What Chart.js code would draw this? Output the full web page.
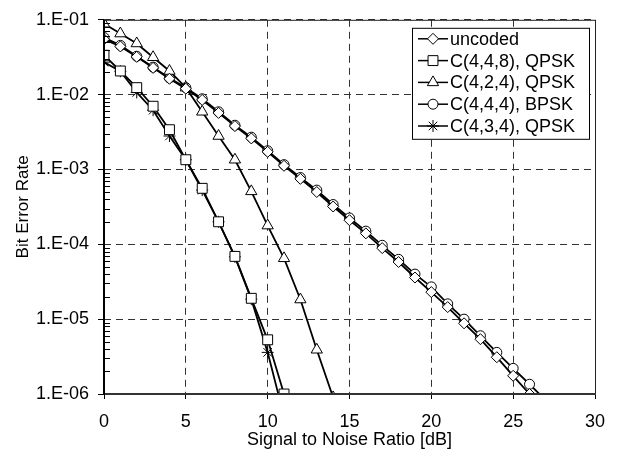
<!DOCTYPE html>
<html>
<head>
<meta charset="utf-8">
<script src="https://cdn.jsdelivr.net/npm/chart.js"></script>
<style>
  html, body { margin: 0; padding: 0; background: #fff; }
  #wrap { width: 619px; height: 452px; }
</style>
</head>
<body>
<div id="wrap"><canvas id="ber-chart"></canvas></div>
<script>
// VALORES DE SNR (dB) DE CADA CURVA
const snrUncoded = [0,1,2,3,4,5,6,7,8,9,10,11,12,13,14,15,16,17,18,19,20,21,22,23,24,25,26];
const snrC448 = [0,1,2,3,4,5,6,7,8,9,10,11];
const snrC424 = [0,1,2,3,4,5,6,7,8,9,10,11,12,13,14];
const snrC444 = [0,1,2,3,4,5,6,7,8,9,10,11,12,13,14,15,16,17,18,19,20,21,22,23,24,25,26,27];
const snrC434 = [0,1,2,3,4,5,6,7,8,9,10,11];

// BER
const berUncoded = [0.055,0.044,0.032,0.0228,0.0163,0.012,0.0085,0.0057,0.0038,0.0026,0.00172,0.00112,
  7.5e-4,5.0e-4,3.2e-4,2.1e-4,1.4e-4,8.9e-5,5.8e-5,3.6e-5,2.3e-5,1.45e-5,8.8e-6,5.4e-6,3.1e-6,1.75e-6,1.0e-6];
const berC448 = [0.0336,0.0207,0.0124,0.0070,0.0034,0.00135,5.6e-4,2.0e-4,6.9e-5,1.9e-5,5.3e-6,1.0e-6];
const berC424 = [0.0886,0.0655,0.0483,0.0316,0.0207,0.0124,0.0059,0.0028,0.00135,5.1e-4,1.78e-4,6.5e-5,1.83e-5,3.9e-6,9.0e-7];
const berC444 = [0.058,0.0455,0.0326,0.0233,0.0167,0.0124,0.0088,0.0059,0.0039,0.0027,0.00178,0.00116,
  7.8e-4,5.3e-4,3.4e-4,2.25e-4,1.5e-4,9.7e-5,6.3e-5,4.0e-5,2.7e-5,1.6e-5,1.0e-5,6.0e-6,3.6e-6,2.2e-6,1.35e-6,8.2e-7];
const berC434 = [0.0272,0.0205,0.0107,0.0062,0.0028,0.00135,5.3e-4,2.0e-4,6.8e-5,1.85e-5,3.6e-6,5e-7];

// NOMES DAS CURVAS
const seriesNames = ['uncoded', 'C(4,4,8), QPSK', 'C(4,2,4), QPSK', 'C(4,4,4), BPSK', 'C(4,3,4), QPSK'];

// TICKS DO EIXO Y (DECADAS) E SEUS TEXTOS
const yMajorTicks = [1e-6, 1e-5, 1e-4, 1e-3, 1e-2, 1e-1];
const yTickLabels = ['1.E-06', '1.E-05', '1.E-04', '1.E-03', '1.E-02', '1.E-01'];
const xTicks = [0, 5, 10, 15, 20, 25, 30];

const FONT = "'Liberation Sans', Arial, sans-serif";

function toPoints(xs, ys) {
  return xs.map((x, i) => ({ x: x, y: ys[i] }));
}

function makeDataset(label, xs, ys, style, radius) {
  return {
    label: label,
    data: toPoints(xs, ys),
    borderColor: '#000',
    borderWidth: 1.8,
    backgroundColor: '#fff',
    pointStyle: style,
    pointRadius: radius,
    pointBorderWidth: 1,
    pointBorderColor: '#000',
    pointBackgroundColor: '#fff',
    tension: 0
  };
}

const datasets = [
  makeDataset(seriesNames[0], snrUncoded, berUncoded, 'rectRot', 5.5),
  makeDataset(seriesNames[1], snrC448, berC448, 'rect', 7),
  makeDataset(seriesNames[2], snrC424, berC424, 'triangle', 6.5),
  makeDataset(seriesNames[3], snrC444, berC444, 'circle', 5),
  makeDataset(seriesNames[4], snrC434, berC434, 'star', 6)
];

// MOLDURA DO GRAFICO + TICKS MENORES DO EIXO Y (PARA DENTRO)
const framePlugin = {
  id: 'frame',
  afterDatasetsDraw(chart) {
    const { ctx, chartArea: a } = chart;
    const yScale = chart.scales.y;
    ctx.save();
    ctx.strokeStyle = '#000';
    ctx.lineWidth = 1;
    yScale.ticks.forEach(t => {
      if (t.major) return;
      const py = Math.round(yScale.getPixelForValue(t.value)) + 0.5;
      ctx.beginPath();
      ctx.moveTo(a.left, py);
      ctx.lineTo(a.left + 6, py);
      ctx.stroke();
    });
    // TOPO E DIREITA
    ctx.strokeStyle = '#222';
    ctx.beginPath();
    ctx.moveTo(a.left, a.top + 0.5);
    ctx.lineTo(a.right + 0.5, a.top + 0.5);
    ctx.lineTo(a.right + 0.5, a.bottom);
    ctx.stroke();
    // EIXOS
    ctx.lineWidth = 2;
    ctx.strokeStyle = '#333';
    ctx.beginPath();
    ctx.moveTo(a.left, a.bottom);
    ctx.lineTo(a.right + 1, a.bottom);
    ctx.stroke();
    ctx.strokeStyle = '#000';
    ctx.beginPath();
    ctx.moveTo(a.left, a.top);
    ctx.lineTo(a.left, a.bottom + 1);
    ctx.stroke();
    ctx.restore();
  }
};

// LEGENDA DENTRO DA AREA DO GRAFICO, COM CAIXA
const legendPlugin = {
  id: 'boxLegend',
  afterDraw(chart) {
    const { ctx, chartArea: a } = chart;
    const w = 177, h = 111;
    const x0 = a.right - 6 - w;
    const y0 = a.top + 8;
    ctx.save();
    ctx.fillStyle = '#fff';
    ctx.fillRect(x0, y0, w, h);
    ctx.strokeStyle = '#000';
    ctx.lineWidth = 1;
    ctx.strokeRect(x0 + 0.5, y0 + 0.5, w, h);
    chart.data.datasets.forEach((ds, i) => {
      const cy = y0 + 11 + i * 21.8;
      ctx.strokeStyle = '#000';
      ctx.lineWidth = 1.5;
      ctx.beginPath();
      ctx.moveTo(x0 + 6, cy);
      ctx.lineTo(x0 + 36, cy);
      ctx.stroke();
      ctx.fillStyle = '#fff';
      ctx.lineWidth = 1;
      Chart.helpers.drawPoint(ctx, {
        pointStyle: ds.pointStyle,
        radius: ds.pointRadius,
        borderWidth: 1,
        rotation: 0
      }, x0 + 21, cy);
      ctx.fillStyle = '#000';
      ctx.font = '18px ' + FONT;
      ctx.textBaseline = 'middle';
      ctx.textAlign = 'left';
      ctx.fillText(ds.label, x0 + 38, cy + 1);
    });
    ctx.restore();
  }
};

const ctx = document.getElementById('ber-chart').getContext('2d');
new Chart(ctx, {
  type: 'line',
  data: { datasets: datasets },
  options: {
    responsive: true,
    maintainAspectRatio: false,
    animation: false,
    layout: { padding: { left: 0, right: 24, top: 14, bottom: 0 } },
    plugins: {
      legend: { display: false },
      tooltip: { enabled: false }
    },
    scales: {
      x: {
        type: 'linear',
        min: 0,
        max: 30,
        afterFit: (scale) => { scale.height = 58; },
        afterBuildTicks: (scale) => { scale.ticks = xTicks.map(v => ({ value: v })); },
        ticks: {
          color: '#000',
          font: { family: FONT, size: 18 },
          padding: 12,
          maxRotation: 0
        },
        grid: {
          color: (c) => (c.tick && (c.tick.value === 0)) ? 'rgba(0,0,0,0)' : '#333',
          lineWidth: 1,
          tickColor: '#000',
          tickLength: 5,
          tickBorderDash: []
        },
        border: { display: false, dash: [7, 5] },
        title: {
          display: true,
          text: 'Signal to Noise Ratio [dB]',
          color: '#000',
          font: { family: FONT, size: 18 },
          padding: { top: 0, bottom: 1 }
        }
      },
      y: {
        type: 'logarithmic',
        min: 1e-6,
        max: 1e-1,
        afterFit: (scale) => { scale.width = 104; },
        afterBuildTicks: (scale) => {
          const ticks = [];
          yMajorTicks.forEach((v, i) => {
            ticks.push({ value: v, major: true });
            if (i < yMajorTicks.length - 1) {
              for (let m = 2; m <= 9; m++) ticks.push({ value: v * m, major: false });
            }
          });
          scale.ticks = ticks;
        },
        ticks: {
          color: '#000',
          font: { family: FONT, size: 18 },
          padding: 9,
          autoSkip: false,
          callback: function (value) {
            const k = yMajorTicks.indexOf(value);
            return k >= 0 ? yTickLabels[k] : '';
          }
        },
        grid: {
          color: (c) => (c.tick && c.tick.major) ? '#333' : 'rgba(0,0,0,0)',
          lineWidth: 1,
          tickColor: (c) => (c.tick && c.tick.major) ? '#000' : 'rgba(0,0,0,0)',
          tickLength: 6,
          tickBorderDash: []
        },
        border: { display: false, dash: [7, 5] },
        title: {
          display: true,
          text: 'Bit Error Rate',
          color: '#000',
          font: { family: FONT, size: 17 },
          padding: { top: 13, bottom: 0 }
        }
      }
    }
  },
  plugins: [framePlugin, legendPlugin]
});
</script>
</body>
</html>
